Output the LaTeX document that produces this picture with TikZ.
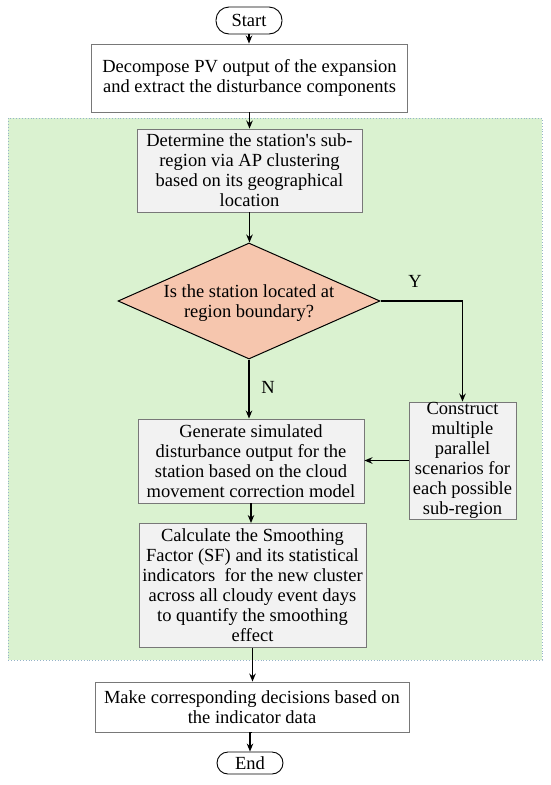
\documentclass[tikz,border=0pt]{standalone}
\usepackage{fontspec}
\setmainfont{Liberation Serif}[Ligatures=TeXOff]
\usetikzlibrary{shapes.geometric,arrows.meta}
\definecolor{regiongreen}{RGB}{218,242,208}
\definecolor{regionedge}{RGB}{150,180,200}
\definecolor{boxgrey}{RGB}{242,242,242}
\definecolor{edgegrey}{RGB}{120,120,120}
\definecolor{salmon}{RGB}{246,198,174}
\tikzset{
  base/.style={font=\fontsize{18.5}{20}\selectfont, align=center, inner sep=0pt},
  term/.style={base, draw=black, line width=0.9pt, fill=white, rounded corners=11pt, minimum width=66pt},
  whitebox/.style={base, draw=edgegrey, line width=0.9pt, fill=white},
  greybox/.style={base, draw=edgegrey, line width=0.9pt, fill=boxgrey},
  dia/.style={diamond, draw=black, line width=1pt, fill=salmon, inner sep=0pt, aspect=2.26, minimum width=262pt, minimum height=116pt},
  arr/.style={draw=black, line width=1.3pt, -{Stealth[length=8pt,width=6.5pt]}},
  lbl/.style={font=\fontsize{18.5}{20}\selectfont}
}
\begin{document}
\begin{tikzpicture}[x=1pt,y=-1pt]
\useasboundingbox (0,0) rectangle (550,785);
% green region
\fill[regiongreen] (8,118) rectangle (542,660);
\draw[regionedge, line width=0.9pt, dotted] (8,118) rectangle (542,660);
% nodes
\node[term, minimum height=27pt, rounded corners=13pt] (start) at (249,20.5) {Start};
\node[whitebox, minimum width=316pt, minimum height=68pt] (decomp) at (249.5,78) {Decompose PV output of the expansion\\and extract the disturbance components};
\node[greybox, minimum width=225pt, minimum height=83pt] (determine) at (249.5,170.5) {Determine the station's sub-\\region via AP clustering\\based on its geographical\\location};
\node[dia] (dec) at (249,301) {};
\node[base] (dectext) at (249,303) {Is the station located at\\region boundary?};
\node[greybox, minimum width=226pt, minimum height=84pt] (gen) at (251,461) {Generate simulated\\disturbance output for the\\station based on the cloud\\movement correction model};
\node[greybox, minimum width=107pt, minimum height=117pt] (cons) at (462.5,460.5) {Construct\\multiple\\parallel\\scenarios for\\each possible\\sub-region};
\node[greybox, minimum width=227pt, minimum height=124pt] (calc) at (252.5,585.5) {Calculate the Smoothing\\Factor (SF) and its statistical\\indicators~ for the new cluster\\across all cloudy event days\\to quantify the smoothing\\effect};
\node[whitebox, minimum width=314pt, minimum height=50pt] (make) at (252,707) {Make corresponding decisions based on\\the indicator data};
\node[term, minimum height=22pt] (end) at (250,763) {End};
% labels
\node[lbl] (ylab) at (415,281) {Y};
\node[lbl] (nlab) at (268,387) {N};
% connectors
\draw[arr] (start.south) -- (start.south |- decomp.north);
\draw[arr] (decomp.south) -- (decomp.south |- determine.north);
\draw[arr] (determine.south) -- (determine.south |- dec.north);
\draw[arr] (dec.south) -- (dec.south |- gen.north);
\draw[arr] (dec.east) -| (cons.north);
\draw[arr] (cons.west) -- (gen.east |- cons.west);
\draw[arr] (gen.south) -- (gen.south |- calc.north);
\draw[arr] (calc.south) -- (calc.south |- make.north);
\draw[arr] (make.south) -- (make.south -| end.north) -- (end.north);
\end{tikzpicture}
\end{document}
